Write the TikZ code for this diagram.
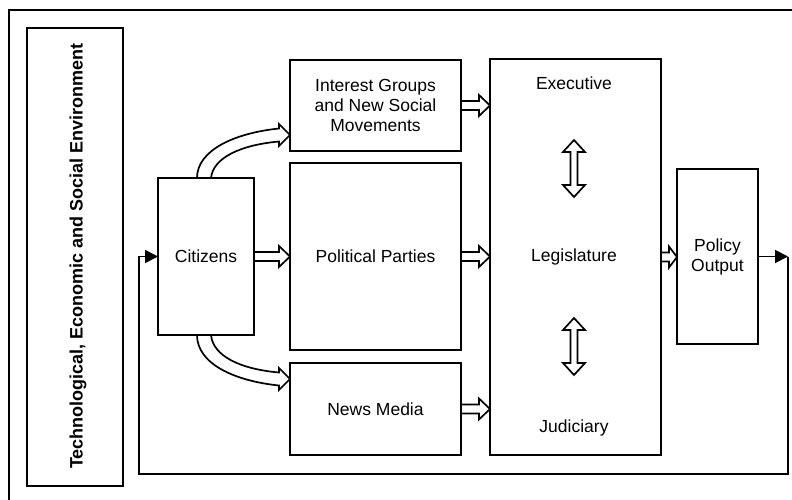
\documentclass[tikz,border=0pt]{standalone}
\usepackage{fontspec}
\setmainfont{Liberation Sans}
\usetikzlibrary{calc,arrows.meta}
\newcommand{\hollowarrow}[3]{% #1 head length, #2 from, #3 to
  \draw[fat] ($(#2.east)+(0,-4.5)$) -- ($(#3.west|-#2.east)+(-#1,-4.5)$) -- ($(#3.west|-#2.east)+(-#1,-10.5)$) -- (#3.west|-#2.east) -- ($(#3.west|-#2.east)+(-#1,10.5)$) -- ($(#3.west|-#2.east)+(-#1,4.5)$) -- ($(#2.east)+(0,4.5)$);}
\begin{document}
\begin{tikzpicture}[x=1pt,y=-1pt,
  box/.style={draw, line width=1.9pt, outer sep=0pt, inner sep=0pt, anchor=north west, align=center, font=\fontsize{17.5}{20}\selectfont},
  lbl/.style={font=\fontsize{17.5}{20}\selectfont, align=center, inner sep=0pt},
  fat/.style={draw, line width=1.7pt, line join=miter},
  fb/.style={line width=1.9pt, line join=miter},
  dblarrow/.pic={\draw[fat] (0,-28.5) -- (11,-16.5) -- (3.5,-16.5) -- (3.5,16.5) -- (11,16.5) -- (0,28.5) -- (-11,16.5) -- (-3.5,16.5) -- (-3.5,-16.5) -- (-11,-16.5) -- cycle;}]
\useasboundingbox (0,0) rectangle (792,499);
\begin{scope}
\clip (0,0) rectangle (792,499);
\draw[line width=1.9pt] (9,10) rectangle (800,510);
\end{scope}
% boxes
\node[box, minimum width=96pt, minimum height=458pt] (env) at (27,28) {};
\node[font=\fontsize{18}{20}\selectfont\bfseries, rotate=90, inner sep=0pt] (envtext) at (78,256) {Technological, Economic and Social Environment};
\node[box, minimum width=96pt, minimum height=157pt] (cit) at (158,178) {Citizens};
\node[box, minimum width=171pt, minimum height=91pt] (ig) at (290,60) {Interest Groups\\and New Social\\Movements};
\node[box, minimum width=171pt, minimum height=187pt] (pp) at (290,163) {Political Parties};
\node[box, minimum width=171pt, minimum height=92pt] (nm) at (290,363) {News Media};
\node[box, minimum width=171pt, minimum height=396pt] (big) at (490,59) {};
\node[box, minimum width=81pt, minimum height=175pt] (pol) at (677,169) {Policy\\Output};
\node[lbl] (exe) at (574,83) {Executive};
\node[lbl] (leg) at (574,257) {Legislature};
\node[lbl] (jud) at (574,428) {Judiciary};
% double arrows inside
\pic at (574,168.5) {dblarrow};
\pic at (574,346.5) {dblarrow};
% straight hollow arrows
\hollowarrow{11}{ig}{big}
\hollowarrow{11}{cit}{pp}
\hollowarrow{11}{pp}{big}
\hollowarrow{11}{nm}{big}
\hollowarrow{8}{big}{pol}
% curved hollow arrows
\draw[fat] ($(cit.north west)+(39,0)$) .. controls (197,150) and (235,133) .. (279,128.5) -- (279,124) -- ($(ig.south west)+(0,-16)$) -- (279,146) -- (279,141.5) .. controls (240,145) and (213,158) .. ($(cit.north west)+(53,0)$);
\draw[fat] ($(cit.south west)+(39,0)$) .. controls (197,364) and (235,381) .. (279,385.5) -- (279,390) -- ($(nm.north west)+(0,16)$) -- (279,368) -- (279,372.5) .. controls (240,369) and (213,356) .. ($(cit.south west)+(53,0)$);
% feedback loop
\coordinate (c1) at (788,474);
\coordinate (c2) at (139,474);
\draw[fb, -{Triangle[length=13pt,width=13pt]}] (pol.east) -- (pol.east -| c1);
\draw[fb, -{Triangle[length=13pt,width=13pt]}] (pol.east -| c1) -- (c1) -- (c2) -- (c2 |- cit.west) -- (cit.west);
\end{tikzpicture}
\end{document}
